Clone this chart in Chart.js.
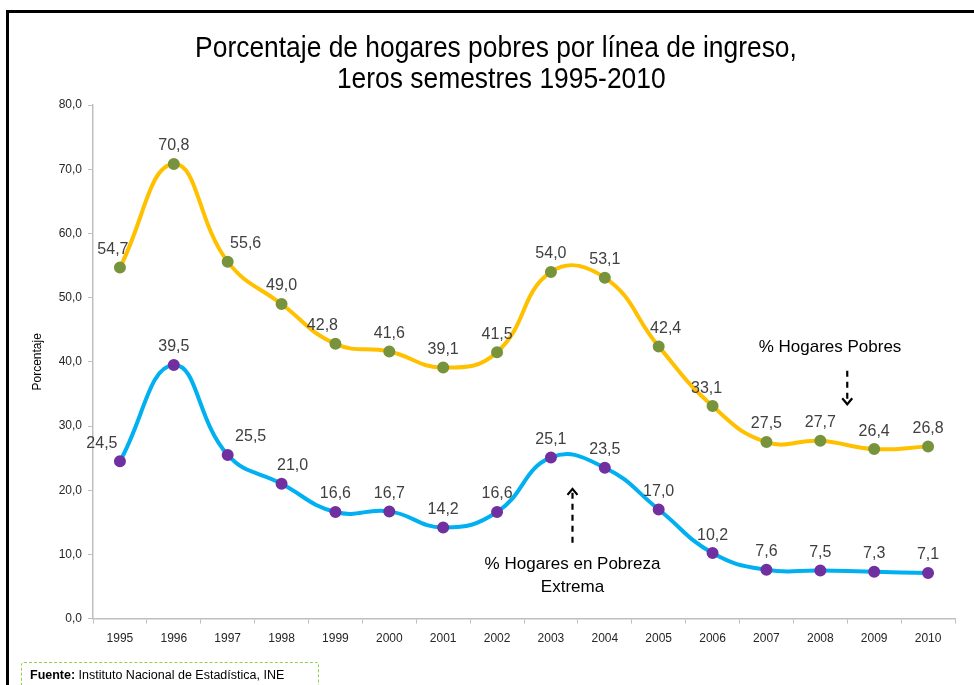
<!DOCTYPE html>
<html>
<head>
<meta charset="utf-8">
<script src="https://cdn.jsdelivr.net/npm/chart.js@4"></script>
<style>
  html, body { margin: 0; padding: 0; background: #fff; }
  #wrap { position: relative; width: 974px; height: 685px; overflow: hidden; }
  #wrap canvas { position: absolute; left: 0; top: 0; }
  .frameTop { position: absolute; left: 6px; top: 10px; width: 968px; height: 3px; background: #000; }
  .frameLeft { position: absolute; left: 6px; top: 10px; width: 3px; height: 680px; background: #000; }
  .title { position: absolute; left: 96px; width: 800px; text-align: center; font-family: 'Liberation Sans', Arial, sans-serif;
           font-size: 30px; color: #000; line-height: 31px; transform: scaleX(0.88); transform-origin: 400px 0; }
  .source { position: absolute; left: 21px; top: 662px; width: 298px; height: 26px; border: 1px dashed #92D050;
            font-family: 'Liberation Sans', Arial, sans-serif; font-size: 12.5px;
            color: #000; line-height: 24px; padding-left: 8px; box-sizing: border-box; border-radius: 3px; }
</style>
</head>
<body>
<div id="wrap">
  <canvas id="c" width="974" height="685"></canvas>
  <div class="frameTop"></div>
  <div class="frameLeft"></div>
  <div class="title" style="top:31px">Porcentaje de hogares pobres por línea de ingreso,<br><span style="position:relative;left:6px">1eros semestres 1995-2010</span></div>
  <div class="source"><b>Fuente:</b> Instituto Nacional de Estadística, INE</div>
</div>
<script>
const years = ['1995','1996','1997','1998','1999','2000','2001','2002','2003','2004','2005','2006','2007','2008','2009','2010'];
const pobres = [54.7,70.8,55.6,49.0,42.8,41.6,39.1,41.5,54.0,53.1,42.4,33.1,27.5,27.7,26.4,26.8];
const extrema = [24.5,39.5,25.5,21.0,16.6,16.7,14.2,16.6,25.1,23.5,17.0,10.2,7.6,7.5,7.3,7.1];
const yTicks = [0,10,20,30,40,50,60,70,80];

const REG = "'Liberation Sans', Arial, sans-serif";
const fmt = v => v.toFixed(1).replace('.', ',');

// small horizontal nudges of data labels (px), as in the original
const nudgeP = {0:-7, 2:18, 4:-13, 10:7, 11:-6};
const nudgeE = {0:-18, 2:23, 3:11};

const labelPlugin = {
  id: 'labels',
  afterDatasetsDraw(chart) {
    const ctx = chart.ctx;
    ctx.save();
    ctx.font = '16px ' + REG;
    ctx.fillStyle = '#404040';
    ctx.textAlign = 'center';
    ctx.textBaseline = 'bottom';
    chart.data.datasets.forEach((ds, di) => {
      const meta = chart.getDatasetMeta(di);
      const nud = di === 0 ? nudgeP : nudgeE;
      meta.data.forEach((pt, i) => {
        ctx.fillText(fmt(ds.data[i]), pt.x + (nud[i] || 0), pt.y - 10);
      });
    });
    // annotations
    const xs = chart.scales.x, ys = chart.scales.y;
    ctx.font = '17px ' + REG;
    ctx.fillStyle = '#000';
    ctx.textBaseline = 'middle';
    const ax1 = xs.getPixelForValue(13.5);
    ctx.fillText('% Hogares Pobres', xs.getPixelForValue(13.18), ys.getPixelForValue(42.2));
    const ax2 = xs.getPixelForValue(8.4);
    ctx.fillText('% Hogares en Pobreza', ax2, ys.getPixelForValue(8.5));
    ctx.fillText('Extrema', ax2, ys.getPixelForValue(4.8));
    ctx.strokeStyle = '#000';
    ctx.lineWidth = 2.2;
    // arrow 1 (down)
    let top = ys.getPixelForValue(38.6), bot = ys.getPixelForValue(33.4);
    ctx.setLineDash([6, 5]);
    ctx.beginPath(); ctx.moveTo(ax1, top); ctx.lineTo(ax1, bot); ctx.stroke();
    ctx.setLineDash([]);
    ctx.beginPath(); ctx.moveTo(ax1 - 5, bot - 6); ctx.lineTo(ax1, bot); ctx.lineTo(ax1 + 5, bot - 6); ctx.stroke();
    // arrow 2 (up)
    top = ys.getPixelForValue(20.2); bot = ys.getPixelForValue(11.8);
    ctx.setLineDash([6, 5]);
    ctx.beginPath(); ctx.moveTo(ax2, bot); ctx.lineTo(ax2, top); ctx.stroke();
    ctx.setLineDash([]);
    ctx.beginPath(); ctx.moveTo(ax2 - 5, top + 6); ctx.lineTo(ax2, top); ctx.lineTo(ax2 + 5, top + 6); ctx.stroke();
    ctx.restore();
  }
};

new Chart(document.getElementById('c'), {
  type: 'line',
  data: {
    labels: years,
    datasets: [
      { label: '% Hogares Pobres', data: pobres, borderColor: '#FFC000', borderWidth: 4,
        pointBackgroundColor: '#77933C', pointBorderColor: '#77933C', pointRadius: 4, tension: 0.45, fill: false },
      { label: '% Hogares en Pobreza Extrema', data: extrema, borderColor: '#00B0F0', borderWidth: 4,
        pointBackgroundColor: '#7030A0', pointBorderColor: '#7030A0', pointRadius: 4, tension: 0.45, fill: false }
    ]
  },
  options: {
    responsive: false,
    animation: false,
    layout: { padding: { left: 30, right: 19, top: 105, bottom: 31 } },
    plugins: {
      legend: { display: false },
      tooltip: { enabled: false },
      title: { display: false }
    },
    scales: {
      x: {
        offset: true,
        grid: { display: true, offset: true, drawOnChartArea: false, color: '#BFBFBF', tickLength: 5 },
        border: { color: '#BFBFBF', width: 1.5 },
        ticks: { font: { family: REG, size: 12 }, color: '#262626', padding: 8, maxRotation: 0, autoSkip: false }
      },
      y: {
        min: 0, max: 80,
        afterBuildTicks: s => { s.ticks = yTicks.map(v => ({ value: v })); },
        grid: { display: true, drawOnChartArea: false, color: '#BFBFBF', tickLength: 5 },
        border: { color: '#BFBFBF', width: 1.5 },
        ticks: { font: { family: REG, size: 12 }, color: '#262626', padding: 6, callback: v => fmt(v) },
        title: { display: true, text: 'Porcentaje', font: { family: REG, size: 12 }, color: '#000', padding: { top: 0, bottom: 0 } },
        afterFit: s => { s.width = 63; }
      }
    }
  },
  plugins: [labelPlugin]
});
</script>
</body>
</html>
